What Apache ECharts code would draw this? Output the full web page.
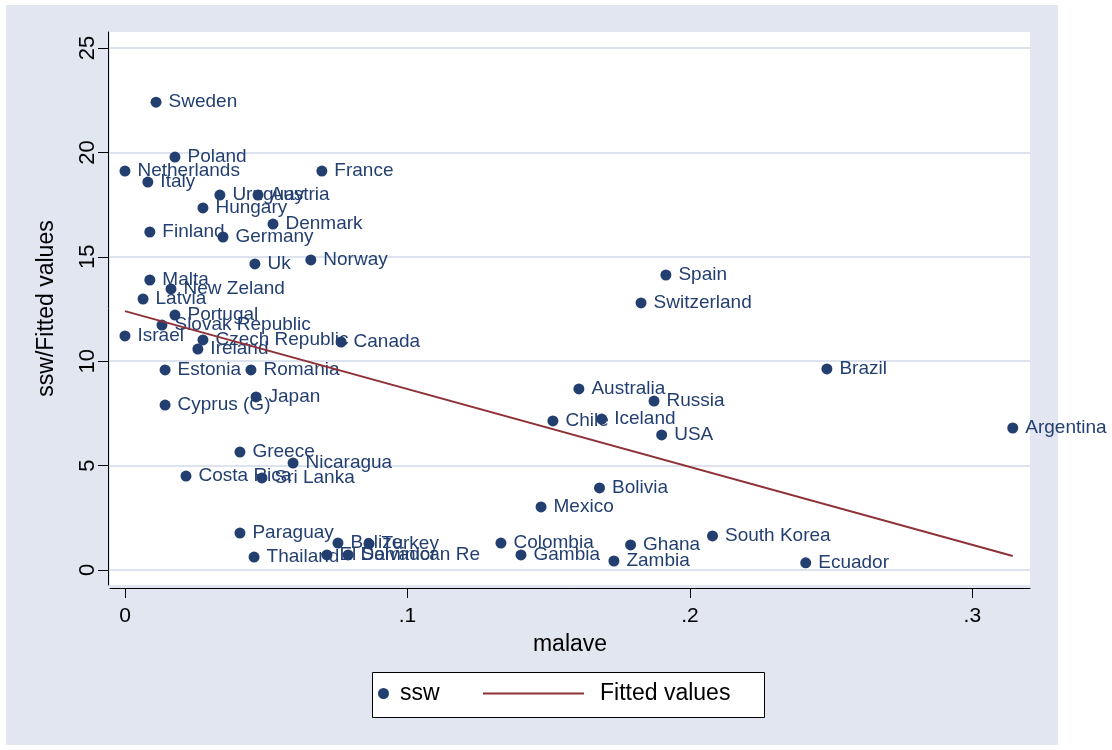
<!DOCTYPE html>
<html>
<head>
<meta charset="utf-8">
<title>ssw vs malave</title>
<script src="https://cdn.jsdelivr.net/npm/echarts@6/dist/echarts.min.js"></script>
<style>
  html, body { margin: 0; padding: 0; background: #ffffff; }
  #chart { width: 1112px; height: 750px; }
</style>
</head>
<body>
<div id="chart"></div>
<script>
// Countries with their malave (x) and ssw (y) values
const countries = [
  'Sweden', 'Poland', 'Netherlands', 'France', 'Italy', 'Uruguay', 'Austria',
  'Hungary', 'Denmark', 'Finland', 'Germany', 'Uk', 'Norway', 'Malta',
  'New Zeland', 'Latvia', 'Portugal', 'Slovak Republic', 'Israel',
  'Czech Republic', 'Ireland', 'Canada', 'Spain', 'Switzerland', 'Estonia',
  'Romania', 'Brazil', 'Australia', 'Japan', 'Russia', 'Cyprus (G)', 'Chile',
  'Iceland', 'USA', 'Argentina', 'Greece', 'Nicaragua', 'Costa Rica',
  'Sri Lanka', 'Bolivia', 'Mexico', 'Paraguay', 'Belize', 'Turkey',
  'Colombia', 'Ghana', 'South Korea', 'Thailand', 'El Salvador',
  'Dominican Re', 'Gambia', 'Zambia', 'Ecuador'
];
const malave = [
  0.0110, 0.0177, 0.0000, 0.0697, 0.0081, 0.0336, 0.0471,
  0.0276, 0.0524, 0.0088, 0.0347, 0.0460, 0.0658, 0.0088,
  0.0163, 0.0064, 0.0177, 0.0131, 0.0000,
  0.0276, 0.0258, 0.0765, 0.1915, 0.1827, 0.0142,
  0.0446, 0.2485, 0.1607, 0.0464, 0.1873, 0.0142, 0.1515,
  0.1688, 0.1900, 0.3143, 0.0407, 0.0595, 0.0216,
  0.0485, 0.1680, 0.1473, 0.0407, 0.0754, 0.0864,
  0.1331, 0.1790, 0.2080, 0.0457, 0.0715,
  0.0790, 0.1402, 0.1731, 0.2410
];
const ssw = [
  22.41, 19.78, 19.11, 19.11, 18.58, 17.96, 17.96,
  17.34, 16.57, 16.19, 15.95, 14.66, 14.85, 13.89,
  13.46, 12.98, 12.21, 11.73, 11.21,
  11.02, 10.58, 10.92, 14.13, 12.79, 9.58,
  9.58, 9.63, 8.67, 8.29, 8.09, 7.90, 7.14,
  7.23, 6.47, 6.80, 5.65, 5.12, 4.50,
  4.41, 3.93, 3.02, 1.77, 1.29, 1.25,
  1.29, 1.20, 1.63, 0.62, 0.72,
  0.72, 0.72, 0.43, 0.34
];

// Linear fit, evaluated at the smallest and largest malave
const fitX = [0.0000, 0.3143];
const fitY = [12.40, 0.67];

// Axis ticks
const xTicks = [0, 0.1, 0.2, 0.3];
const xTickLabels = ['0', '.1', '.2', '.3'];
const yTicks = [0, 5, 10, 15, 20, 25];
const yTickLabels = ['0', '5', '10', '15', '20', '25'];

const NAVY = '#233f70';
const MAROON = '#8f3237';
const BG = '#e1e6f1';
const GRIDLINE = '#dde3ee';
const FONT = "'Liberation Sans', Arial, sans-serif";

const chart = echarts.init(document.getElementById('chart'), null, { renderer: 'canvas' });

const points = countries.map((c, i) => ({ name: c, value: [malave[i], ssw[i]] }));
const fitLine = fitX.map((x, i) => [x, fitY[i]]);

const option = {
  backgroundColor: '#ffffff',
  animation: false,
  textStyle: { fontFamily: FONT },
  graphic: [
    {
      type: 'rect', z: -10, silent: true,
      shape: { x: 6, y: 5, width: 1052, height: 740 },
      style: { fill: BG }
    },
    {
      type: 'rect', z: 100, silent: true,
      shape: { x: 372.5, y: 672.5, width: 392, height: 45 },
      style: { fill: '#ffffff', stroke: '#000000', lineWidth: 1 }
    }
  ],
  grid: {
    left: 110, right: 82, top: 32, bottom: 165,
    show: true, backgroundColor: '#ffffff', borderWidth: 0
  },
  xAxis: {
    type: 'value',
    min: -0.0053, max: 0.3204,
    offset: 3,
    name: 'malave',
    nameLocation: 'middle',
    nameGap: 45,
    nameTextStyle: { fontSize: 23, color: '#000', fontFamily: FONT },
    axisLine: { show: true, onZero: false, lineStyle: { color: '#000', width: 1 } },
    axisTick: { show: true, length: 10, customValues: xTicks, lineStyle: { color: '#000' } },
    axisLabel: {
      customValues: xTicks,
      margin: 18,
      fontSize: 21, color: '#000', fontFamily: FONT,
      formatter: v => xTickLabels[xTicks.findIndex(t => Math.abs(t - v) < 1e-9)] ?? ''
    },
    splitLine: { show: false }
  },
  yAxis: {
    type: 'value',
    min: -0.72, max: 25.77,
    offset: 2,
    name: 'ssw/Fitted values',
    nameLocation: 'middle',
    nameGap: 50,
    nameRotate: 90,
    nameTextStyle: { fontSize: 23, color: '#000', fontFamily: FONT },
    axisLine: { show: true, onZero: false, lineStyle: { color: '#000', width: 1 } },
    axisTick: { show: true, length: 10, customValues: yTicks, lineStyle: { color: '#000' } },
    axisLabel: {
      customValues: yTicks,
      rotate: 90,
      margin: 9,
      fontSize: 22, color: '#000', fontFamily: FONT,
      formatter: v => yTickLabels[yTicks.findIndex(t => Math.abs(t - v) < 1e-9)] ?? ''
    },
    splitLine: { show: false }
  },
  legend: [
    {
      data: [{ name: 'ssw', icon: 'circle' }],
      left: 378, top: 682,
      padding: 0,
      itemWidth: 11, itemHeight: 11,
      z: 110,
      textStyle: { fontSize: 23, color: '#000', fontFamily: FONT, padding: [0, 0, 0, 6] }
    },
    {
      data: [{ name: 'Fitted values', icon: 'rect' }],
      left: 483, top: 682,
      padding: 0,
      itemWidth: 101, itemHeight: 2,
      z: 110,
      textStyle: { fontSize: 23, color: '#000', fontFamily: FONT, padding: [0, 0, 0, 11] }
    }
  ],
  series: [
    {
      // horizontal grid lines at the y ticks
      type: 'scatter',
      name: 'gridlines',
      data: [],
      z: 1,
      silent: true,
      markLine: {
        z: 1,
        silent: true,
        symbol: 'none',
        label: { show: false },
        lineStyle: { color: GRIDLINE, width: 2, type: 'solid' },
        data: yTicks.map(t => ({ yAxis: t }))
      }
    },
    {
      type: 'scatter',
      name: 'ssw',
      z: 2,
      symbol: 'circle',
      symbolSize: 11,
      itemStyle: { color: NAVY, opacity: 1 },
      label: {
        show: true,
        position: 'right',
        distance: 7,
        offset: [0, 1],
        formatter: p => p.name,
        fontSize: 19,
        color: NAVY,
        fontFamily: FONT
      },
      labelLayout: { hideOverlap: false },
      data: points
    },
    {
      type: 'line',
      name: 'Fitted values',
      z: 3,
      symbol: 'none',
      showSymbol: false,
      lineStyle: { color: MAROON, width: 2 },
      itemStyle: { color: MAROON },
      data: fitLine
    }
  ]
};

chart.setOption(option);
</script>
</body>
</html>
